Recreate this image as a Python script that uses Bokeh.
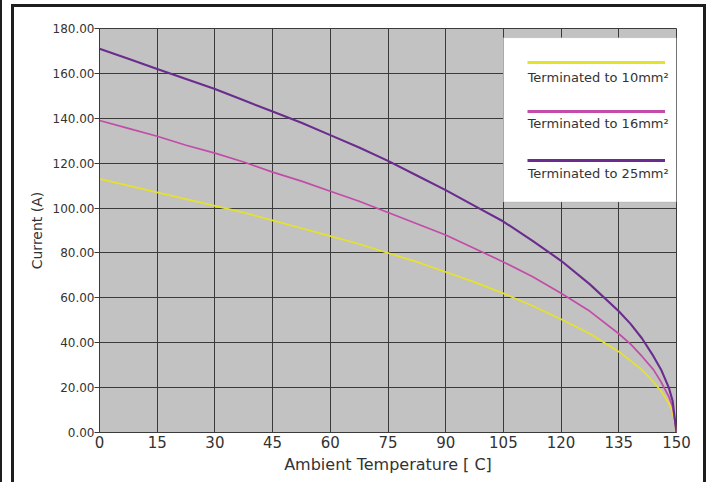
from bokeh.plotting import figure
from bokeh.models import (Range1d, FixedTicker, PrintfTickFormatter, BoxAnnotation,
                          Label, Legend, LegendItem)
from bokeh.embed import file_html
from bokeh.resources import INLINE

# ---- data ----
temperature = [0, 7.5, 15, 22.5, 30, 37.5, 45, 52.5, 60, 67.5, 75, 82.5, 90, 97.5,
               105, 112.5, 120, 127.5, 135, 138, 141, 144, 146, 148, 149, 150]
current_10mm = [113, 110, 107, 104, 101, 98, 94.5, 91, 87.5, 84, 80, 76, 71.5, 67,
                62, 56.5, 50.5, 44, 36, 32, 28, 22.5, 18.5, 13, 9, 0]
current_16mm = [139, 135.5, 132, 128, 124.5, 120.5, 116, 112, 107.5, 103, 98, 93, 88, 82,
                76, 69.5, 62, 54, 44, 39.5, 34, 28, 22.5, 16, 11.5, 0]
current_25mm = [171, 166.5, 162, 157.5, 153, 148, 143, 138, 132.5, 127, 121, 114.5, 108, 101,
                94, 85.5, 76.5, 66, 54, 48.5, 42, 34, 28, 20, 14, 0]
series_labels = ["Terminated to 10mm²", "Terminated to 16mm²", "Terminated to 25mm²"]
x_ticks = [0, 15, 30, 45, 60, 75, 90, 105, 120, 135, 150]
y_ticks = [0, 20, 40, 60, 80, 100, 120, 140, 160, 180]

colors = ["#e4e22c", "#c34ca8", "#6a2c8e"]
FONT = "DejaVu Sans"
TXT = "#333333"
EDGE = "#1e1e1e"

p = figure(width=706, height=482, output_backend="svg", toolbar_location=None,
           x_range=Range1d(0, 150), y_range=Range1d(0, 180),
           min_border_left=99, min_border_right=30, min_border_top=28, min_border_bottom=50)
g = f"linear-gradient({EDGE},{EDGE})"
p.styles = {
    "background": (
        f"{g} 0px 0px / 2px 100% no-repeat, "
        f"{g} 11px 4px / 3px 100% no-repeat, "
        f"{g} 11px 4px / 695px 3px no-repeat, "
        f"{g} 703px 4px / 3px 100% no-repeat, "
        "#ffffff"
    ),
}

p.background_fill_color = "#c2c2c2"
p.border_fill_color = None
p.outline_line_color = "#3a3a3a"

p.xgrid.ticker = FixedTicker(ticks=x_ticks)
p.ygrid.ticker = FixedTicker(ticks=y_ticks)
for gr in (p.xgrid, p.ygrid):
    gr.grid_line_color = "#3a3a3a"
    gr.grid_line_width = 1

p.xaxis.ticker = FixedTicker(ticks=x_ticks)
p.yaxis.ticker = FixedTicker(ticks=y_ticks)
p.yaxis.formatter = PrintfTickFormatter(format="%.2f")
for ax in (p.xaxis, p.yaxis):
    ax.axis_line_color = "#3a3a3a"
    ax.major_tick_line_color = "#3a3a3a"
    ax.minor_tick_line_color = None
    ax.major_label_text_font = FONT
    ax.major_label_text_color = TXT
    ax.axis_label_text_font = FONT
    ax.axis_label_text_color = TXT
    ax.axis_label_text_font_style = "normal"
p.xaxis.major_tick_out = 0
p.xaxis.major_tick_in = 0
p.xaxis.major_label_standoff = 3
p.xaxis.major_label_text_font_size = "15px"
p.xaxis.axis_label = "Ambient Temperature [ C]"
p.xaxis.axis_label_text_font_size = "16px"
p.xaxis.axis_label_standoff = 4
p.yaxis.major_tick_out = 5
p.yaxis.major_tick_in = 0
p.yaxis.major_label_standoff = 0
p.yaxis.major_label_text_font_size = "12px"
p.yaxis.axis_label = "Current (A)"
p.yaxis.axis_label_text_font_size = "14px"
p.yaxis.axis_label_standoff = 5

# legend background box
p.add_layout(BoxAnnotation(left=105, right=150, bottom=102.7, top=175.9,
                           fill_color="white", fill_alpha=1, line_color="#a0a0a0",
                           line_width=1, level="underlay"))

renderers = []
proxies = []
for ys, c, w in zip([current_10mm, current_16mm, current_25mm], colors, [1.7, 1.7, 2.1]):
    renderers.append(p.line(temperature, ys, line_color=c, line_width=w))
    # single-point proxy (draws nothing in the plot) used only for a thicker legend swatch
    proxies.append(p.line(x=temperature[:1], y=ys[:1], line_color=c, line_width=3))

legend = Legend(items=[LegendItem(label=" ", renderers=[r]) for r in proxies],
                location=(428, 262), orientation="vertical",
                glyph_width=138, glyph_height=20, label_height=20, label_width=0,
                label_standoff=0, spacing=29, padding=0, margin=0,
                background_fill_alpha=0, border_line_alpha=0,
                label_text_font_size="1px")
p.add_layout(legend)

label_y = [158.0, 137.5, 115.2]
for txt, yv in zip(series_labels, label_y):
    p.add_layout(Label(x=111.3, y=yv, text=txt, text_font=FONT, text_font_size="13px",
                       text_color=TXT, text_baseline="middle", text_align="left"))

open("out.html", "w").write(file_html(p, INLINE))
